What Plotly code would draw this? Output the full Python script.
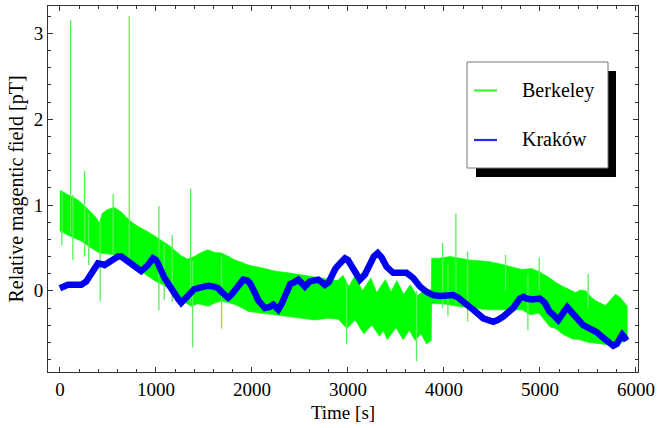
import plotly.graph_objects as go

# ---------------- data ----------------
# Berkeley: noisy band -> upper / lower envelope
berkeley_upper_t = [0, 40, 100, 160, 220, 280, 330, 380, 413, 440, 500, 570, 640, 700, 760, 830, 917,
                    1000, 1090, 1150, 1200, 1264, 1330, 1400, 1460, 1540, 1610, 1684, 1760, 1823, 1900,
                    1962, 2100, 2240, 2380, 2500, 2650, 2800, 2890, 2950, 3010, 3075, 3150, 3240, 3300,
                    3390, 3450, 3510, 3580, 3650, 3720, 3800, 3868, 3872, 3950, 4063, 4150, 4271, 4380,
                    4479, 4600, 4700, 4813, 4917, 5000, 5104, 5163, 5243, 5300, 5372, 5420, 5476, 5540,
                    5590, 5684, 5740, 5788, 5840, 5880, 5910]
berkeley_upper = [1.17, 1.15, 1.11, 1.08, 1.03, 0.97, 0.91, 0.85, 0.79, 0.90, 0.95, 0.97, 0.92, 0.85, 0.79,
                  0.74, 0.69, 0.63, 0.57, 0.52, 0.47, 0.41, 0.37, 0.40, 0.44, 0.48, 0.45, 0.44, 0.40, 0.36,
                  0.33, 0.30, 0.27, 0.23, 0.21, 0.19, 0.16, 0.14, 0.12, 0.18, 0.05, 0.18, 0.00, 0.15, -0.02,
                  0.13, -0.01, 0.12, -0.04, 0.07, -0.06, 0.01, -0.05, 0.38, 0.38, 0.40, 0.38, 0.36, 0.35,
                  0.34, 0.31, 0.28, 0.25, 0.26, 0.22, 0.15, 0.10, 0.05, 0.02, -0.02, 0.01, 0.00, -0.08,
                  -0.12, -0.17, -0.10, -0.04, -0.08, -0.14, -0.18]
berkeley_lower_t = [0, 80, 160, 222, 326, 413, 500, 569, 650, 743, 830, 917, 1000, 1090, 1194, 1264, 1368,
                    1438, 1545, 1620, 1684, 1760, 1823, 1900, 1962, 2101, 2240, 2378, 2517, 2656, 2795,
                    2900, 2990, 3075, 3165, 3250, 3330, 3370, 3410, 3500, 3576, 3640, 3700, 3760, 3820,
                    3868, 3872, 3979, 4100, 4271, 4479, 4688, 4813, 4896, 4990, 5104, 5163, 5243, 5340,
                    5417, 5500, 5590, 5694, 5780, 5850, 5910]
berkeley_lower = [0.70, 0.65, 0.61, 0.58, 0.50, 0.44, 0.43, 0.42, 0.37, 0.32, 0.25, 0.17, 0.11, 0.06, -0.03,
                  -0.11, -0.18, -0.15, -0.18, -0.14, -0.12, -0.14, -0.16, -0.20, -0.24, -0.26, -0.28, -0.30,
                  -0.32, -0.34, -0.32, -0.33, -0.44, -0.34, -0.50, -0.40, -0.53, -0.46, -0.57, -0.43, -0.57,
                  -0.46, -0.58, -0.50, -0.62, -0.58, -0.15, -0.15, -0.17, -0.20, -0.22, -0.22, -0.22, -0.28,
                  -0.26, -0.42, -0.44, -0.51, -0.56, -0.57, -0.60, -0.61, -0.63, -0.64, -0.60, -0.58]

# Berkeley: isolated spikes (time, low end, high end)
spike_t = [20, 111, 135, 257, 300, 420, 555, 722, 1031, 1087, 1170, 1361, 1382, 1684, 2986, 3715,
           3986, 4042, 4125, 4247, 4642, 4875, 4993, 5503]
spike_lo = [0.53, 0.66, 0.36, 0.40, 0.30, -0.12, 0.42, 0.32, -0.23, -0.11, -0.13, -0.15, -0.66, -0.44,
            -0.62, -0.82, -0.20, -0.30, -0.15, -0.36, 0.00, -0.46, 0.00, -0.20]
spike_hi = [1.17, 3.16, 1.12, 1.40, 0.90, 0.80, 1.13, 3.20, 0.99, 0.55, 0.65, 1.19, 0.35, 0.40,
            0.10, 0.00, 0.56, 0.30, 0.90, 0.46, 0.42, 0.20, 0.39, 0.20]

# Kraków
krakow_t = [0, 40, 83, 150, 222, 274, 310, 344, 396, 440, 465, 535, 604, 640, 674, 720, 778, 847, 917,
            969, 1000, 1021, 1090, 1160, 1229, 1264, 1300, 1333, 1400, 1470, 1545, 1600, 1649, 1700,
            1753, 1790, 1823, 1870, 1910, 1950, 1979, 2030, 2066, 2135, 2180, 2222, 2274, 2310, 2344,
            2400, 2440, 2483, 2520, 2552, 2604, 2650, 2691, 2730, 2760, 2800, 2830, 2870, 2917, 2969,
            3000, 3056, 3100, 3125, 3177, 3229, 3270, 3310, 3351, 3403, 3472, 3542, 3611, 3681, 3750,
            3819, 3889, 3958, 4030, 4097, 4150, 4201, 4306, 4410, 4480, 4514, 4560, 4618, 4722, 4792,
            4830, 4861, 4920, 4965, 5000, 5052, 5100, 5139, 5191, 5240, 5285, 5347, 5400, 5451, 5520,
            5590, 5640, 5694, 5730, 5764, 5800, 5833, 5858, 5880, 5903]
krakow = [0.03, 0.06, 0.07, 0.07, 0.07, 0.11, 0.18, 0.25, 0.32, 0.31, 0.30, 0.35, 0.40, 0.40, 0.37, 0.33,
          0.28, 0.23, 0.30, 0.38, 0.36, 0.32, 0.15, 0.01, -0.09, -0.14, -0.10, -0.05, 0.02, 0.04, 0.06,
          0.05, 0.03, -0.03, -0.08, -0.04, 0.01, 0.09, 0.13, 0.12, 0.09, -0.02, -0.11, -0.20, -0.19,
          -0.16, -0.22, -0.15, -0.07, 0.08, 0.10, 0.13, 0.09, 0.05, 0.11, 0.13, 0.13, 0.10, 0.07, 0.10,
          0.17, 0.26, 0.32, 0.38, 0.36, 0.26, 0.17, 0.13, 0.19, 0.33, 0.40, 0.44, 0.39, 0.28, 0.21, 0.21,
          0.21, 0.15, 0.05, -0.01, -0.05, -0.06, -0.06, -0.05, -0.08, -0.12, -0.22, -0.32, -0.35, -0.36,
          -0.34, -0.30, -0.20, -0.09, -0.07, -0.09, -0.10, -0.10, -0.09, -0.14, -0.24, -0.28, -0.34,
          -0.26, -0.19, -0.27, -0.35, -0.40, -0.44, -0.48, -0.53, -0.57, -0.61, -0.64, -0.62, -0.57,
          -0.51, -0.54, -0.58]

x_ticks = [0, 1000, 2000, 3000, 4000, 5000, 6000]
x_ticklabels = ["0", "1000", "2000", "3000", "4000", "5000", "6000"]
y_ticks = [0, 1, 2, 3]
y_ticklabels = ["0", "1", "2", "3"]
series_names = ["Berkeley", "Kraków"]

# ---------------- styling ----------------
GREEN = "rgb(0,255,0)"
SPIKE = "rgb(90,240,90)"
BLUE = "rgb(0,0,240)"
FONT = "Liberation Serif"
W, H = 660, 428
ML, MR, MT, MB = 48, 22, 6, 56

fig = go.Figure()

band_x = berkeley_upper_t + berkeley_lower_t[::-1]
band_y = berkeley_upper + berkeley_lower[::-1]
fig.add_trace(go.Scatter(x=band_x, y=band_y, mode="lines", fill="toself",
                         fillcolor=GREEN, line=dict(color=GREEN, width=0.6),
                         hoverinfo="skip", name=series_names[0]))

sx, sy = [], []
for t, lo, hi in zip(spike_t, spike_lo, spike_hi):
    sx += [t, t, None]
    sy += [lo, hi, None]
fig.add_trace(go.Scatter(x=sx, y=sy, mode="lines", line=dict(color=SPIKE, width=1.3),
                         hoverinfo="skip", name=series_names[0]))

fig.add_trace(go.Scatter(x=krakow_t, y=krakow, mode="lines",
                         line=dict(color=BLUE, width=6.5), name=series_names[1]))

axis_common = dict(showgrid=False, zeroline=False, showline=True, linecolor="#333", linewidth=1,
                   mirror="ticks", ticks="inside", ticklen=5, tickcolor="#333", automargin=False,
                   tickfont=dict(family=FONT, size=19, color="black"))
fig.update_xaxes(range=[-124, 6022], tickvals=x_ticks, ticktext=x_ticklabels,
                 minor=dict(dtick=200, tick0=0, ticks="inside", ticklen=3, tickcolor="#333"),
                 title=dict(text="Time [s]", font=dict(family=FONT, size=19, color="black"), standoff=6),
                 **axis_common)
fig.update_yaxes(range=[-0.946, 3.32], tickvals=y_ticks, ticktext=y_ticklabels,
                 minor=dict(dtick=0.2, tick0=0, ticks="inside", ticklen=3, tickcolor="#333"),
                 title=dict(text="Relative magentic field [pT]",
                            font=dict(family=FONT, size=20, color="black"), standoff=4),
                 **axis_common)

# legend drawn as a framed box with a drop shadow
pw, ph = W - ML - MR, H - MT - MB
def px(x):
    return (x - ML) / pw
def py(y):
    return (H - MB - y) / ph

shapes = [
    dict(type="rect", xref="paper", yref="paper", x0=px(476), x1=px(616), y0=py(177), y1=py(71),
         fillcolor="black", line=dict(width=0), layer="above"),
    dict(type="rect", xref="paper", yref="paper", x0=px(467), x1=px(608), y0=py(168), y1=py(62),
         fillcolor="white", line=dict(color="#777", width=1), layer="above"),
    dict(type="line", xref="paper", yref="paper", x0=px(474), x1=px(497), y0=py(90.5), y1=py(90.5),
         line=dict(color="rgb(60,245,60)", width=2.2), layer="above"),
    dict(type="line", xref="paper", yref="paper", x0=px(474), x1=px(497), y0=py(140), y1=py(140),
         line=dict(color="rgb(40,40,245)", width=2.2), layer="above"),
]
annotations = [
    dict(xref="paper", yref="paper", x=px(520), y=py(90), xanchor="left", yanchor="middle",
         text=series_names[0], showarrow=False, font=dict(family=FONT, size=20, color="black")),
    dict(xref="paper", yref="paper", x=px(520), y=py(139), xanchor="left", yanchor="middle",
         text=series_names[1], showarrow=False, font=dict(family=FONT, size=20, color="black")),
]

fig.update_layout(width=W, height=H, margin=dict(l=ML, r=MR, t=MT, b=MB),
                  paper_bgcolor="white", plot_bgcolor="white", showlegend=False,
                  font=dict(family=FONT, size=19, color="black"),
                  shapes=shapes, annotations=annotations)

fig.write_html("out.html", config={"displayModeBar": False},
               post_script="document.body.style.margin='0';document.body.style.overflow='hidden';")
